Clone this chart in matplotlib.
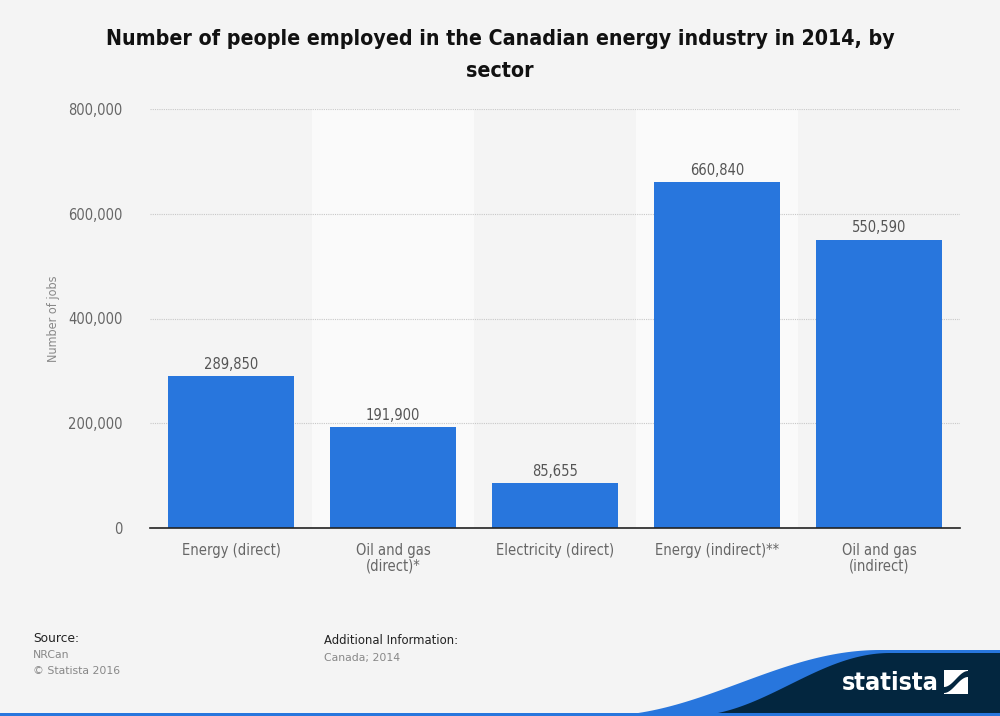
import numpy as np
import matplotlib
matplotlib.use("Agg")
import matplotlib.pyplot as plt
from matplotlib.patches import Polygon, Rectangle
from matplotlib.ticker import FuncFormatter

categories = ["Energy (direct)", "Oil and gas\n(direct)*", "Electricity (direct)",
              "Energy (indirect)**", "Oil and gas\n(indirect)"]
values = [289850, 191900, 85655, 660840, 550590]
yticks = [0, 200000, 400000, 600000, 800000]

plt.rcParams['font.family'] = ['DejaVu Sans']
BG = "#f4f4f4"
BAR = "#2876dd"
fig = plt.figure(figsize=(10, 7.16), dpi=100, facecolor=BG)
ax = fig.add_axes([0.150, 1 - 528 / 716, 0.810, (528 - 109) / 716])
ax.set_facecolor(BG)

x = np.arange(len(categories))
for i in x:
    if i % 2 == 1:
        ax.axvspan(i - 0.5, i + 0.5, color="#fafafa", zorder=0, lw=0)
bars = ax.bar(x, values, width=0.78, color=BAR, zorder=3)
for xi, v in zip(x, values):
    ax.text(xi, v + 8000, f"{v:,}", ha="center", va="bottom", fontsize=10.5,
            color="#555555", fontstretch="condensed", zorder=4)

ax.set_xlim(-0.5, len(categories) - 0.5)
ax.set_ylim(0, 800000)
ax.set_yticks(yticks)
ax.yaxis.set_major_formatter(FuncFormatter(lambda v, p: f"{int(v):,}"))
ax.set_xticks(x)
ax.set_xticklabels(categories, fontsize=10.5, color="#666666", fontstretch="condensed",
                   linespacing=1.0)
for lab in ax.get_yticklabels():
    lab.set_fontsize(10.5)
    lab.set_color("#666666")
    lab.set_fontstretch("condensed")
ax.tick_params(axis="both", length=0)
ax.tick_params(axis="y", pad=20)
ax.tick_params(axis="x", pad=11)
ax.grid(axis="y", color="#c8c8c8", linestyle=(0, (1, 1)), linewidth=0.8, zorder=1)
for s in ["top", "right", "left"]:
    ax.spines[s].set_visible(False)
ax.spines["bottom"].set_color("#222222")
ax.spines["bottom"].set_linewidth(1.2)
ax.spines["bottom"].set_zorder(5)
ax.set_ylabel("Number of jobs", fontsize=9, color="#888888",
              fontstretch="condensed")
ax.yaxis.set_label_coords(-0.111, 0.5)

fig.text(0.5, 1 - 39 / 716, "Number of people employed in the Canadian energy industry in 2014, by",
         ha="center", va="center", fontsize=15.3, fontweight="bold", color="#111111",
         fontstretch="condensed")
fig.text(0.5, 1 - 71 / 716, "sector", ha="center", va="center", fontsize=15.3,
         fontweight="bold", color="#111111", fontstretch="condensed")

# footer
fig.text(33 / 1000, 1 - 639 / 716, "Source:", fontsize=8.8, color="#222222", va="center")
fig.text(33 / 1000, 1 - 655 / 716, "NRCan", fontsize=7.8, color="#888888", va="center")
fig.text(33 / 1000, 1 - 671 / 716, "© Statista 2016", fontsize=7.8, color="#888888", va="center")
fig.text(324 / 1000, 1 - 640 / 716, "Additional Information:", fontsize=8.4, color="#222222", va="center")
fig.text(324 / 1000, 1 - 658 / 716, "Canada; 2014", fontsize=7.8, color="#888888", va="center")

# logo shape
W, H = 1000, 716
def fc(px, py):
    return (px / W, 1 - py / H)

t = np.linspace(0, 1, 60)
xs = 600 + 280 * t
ys = 716 - 66 * (0.5 - 0.5 * np.cos(np.pi * t))
outer = [fc(a, b) for a, b in zip(xs, ys)] + [fc(1000, 650), fc(1000, 716)]
fig.patches.append(Polygon(outer, closed=True, transform=fig.transFigure,
                           facecolor=BAR, edgecolor="none", zorder=1))
xs2 = 690 + 200 * t
ys2 = 716 - 63 * (0.5 - 0.5 * np.cos(np.pi * t))
inner = [fc(a, b) for a, b in zip(xs2, ys2)] + [fc(1000, 653), fc(1000, 716)]
fig.patches.append(Polygon(inner, closed=True, transform=fig.transFigure,
                           facecolor="#03263f", edgecolor="none", zorder=2))
fig.patches.append(Rectangle((0, 0), 1, 3 / H, transform=fig.transFigure,
                             facecolor=BAR, edgecolor="none", zorder=3))
fig.text(890 / 1000, 1 - 683 / 716, "statista", fontsize=18, fontweight="bold", color="white",
         ha="center", va="center", fontstretch="condensed", zorder=4)
fig.patches.append(Rectangle(fc(944, 694), 24 / W, 24 / H, transform=fig.transFigure,
                             facecolor="white", edgecolor="none", zorder=4))
wave_t = np.linspace(0, 1, 30)
wx = 944 + 24 * wave_t
wy = 690 - 16 * (0.5 - 0.5 * np.cos(np.pi * wave_t))
wave = [fc(a, b) for a, b in zip(wx, wy - 3)] + [fc(a, b) for a, b in zip(wx[::-1], (wy + 3)[::-1])]
fig.patches.append(Polygon(wave, closed=True, transform=fig.transFigure,
                           facecolor="#03263f", edgecolor="none", zorder=5))

fig.savefig("out.png", dpi=100, facecolor=BG)
